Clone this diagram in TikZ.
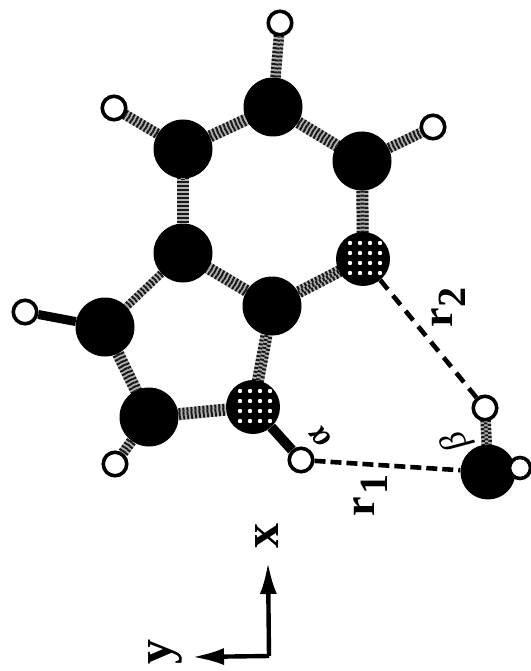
\documentclass[tikz,border=0pt]{standalone}
\usepackage{fontspec}
\setmainfont{Liberation Serif}
\usetikzlibrary{arrows.meta,calc,backgrounds}
\tikzset{x=1pt,y=-1pt,
 carbon/.style={circle,fill=black,inner sep=0pt,minimum size=59pt},
 nitro/.style={circle,fill=black,inner sep=0pt,minimum size=54pt},
 oxy/.style={circle,fill=black,inner sep=0pt,minimum size=55pt},
 hyd/.style={circle,draw=black,fill=white,line width=3.6pt,inner sep=0pt,minimum size=23.5pt},
 bondbase/.style={draw=black!30,line cap=butt},
 check/.style={draw=black!90,line cap=butt,dash pattern=on 2pt off 2pt},
 hb/.style={line width=4.6pt,draw=black,dash pattern=on 11pt off 5pt},
 hbb/.style={line width=4.6pt,draw=black,dash pattern=on 12pt off 8pt},
 axis/.style={line width=4.4pt,draw=black,line join=round,-{Latex[length=32pt,width=17pt]}},
 lab/.style={font=\bfseries\fontsize{44}{44}\selectfont,rotate=90,inner sep=0pt},
 sublab/.style={font=\bfseries\fontsize{40}{40}\selectfont,rotate=90,inner sep=0pt},
 axlab/.style={font=\bfseries\fontsize{50}{50}\selectfont,rotate=90,inner sep=0pt},
 greek/.style={font=\itshape\fontsize{36}{36}\selectfont,inner sep=0pt},
 wdot/.style={circle,fill=white,inner sep=0pt,minimum size=4.4pt}}
% textured bond: three rows of offset dashes, so the line looks like a halftone
\newcommand{\texbond}[3]{%
 \draw[bondbase,line width=#3 pt] (#1)--(#2);
 \draw[check,line width=#3 pt/3] (#1)--(#2);
 \draw[check,line width=#3 pt/3,dash phase=2pt] ($(#1)!#3 pt/3!90:(#2)$)--($(#2)!#3 pt/3!-90:(#1)$);
 \draw[check,line width=#3 pt/3,dash phase=2pt] ($(#1)!#3 pt/3!-90:(#2)$)--($(#2)!#3 pt/3!90:(#1)$);
}
\begin{document}
\begin{tikzpicture}
\useasboundingbox (0,0) rectangle (530,671);
% atoms
\node[carbon] (C1) at (273,107) {};
\node[carbon] (C2) at (362,161) {};
\node[carbon] (C3) at (272,306) {};
\node[carbon] (C4) at (183,253) {};
\node[carbon] (C5) at (183,149) {};
\node[carbon] (C6) at (105,327) {};
\node[carbon] (C7) at (149,417) {};
\node[oxy] (O) at (488,472) {};
\node[nitro] (N1) at (363,259) {};
\node[nitro] (N2) at (253,407) {};
\foreach \dx in {-13,-3,7,17}\foreach \dy in {-16,-6,4,14}{
 \node[wdot] (da\dx\dy) at ($(N1)+(\dx,\dy)$) {};
 \node[wdot] (db\dx\dy) at ($(N2)+(\dx,\dy)$) {};
}
\node[hyd] (H1) at (280,23) {};
\node[hyd] (H2) at (433,127) {};
\node[hyd] (H3) at (114,108) {};
\node[hyd] (H4) at (25,312) {};
\node[hyd] (H5) at (115,464) {};
\node[hyd] (H6) at (301,460) {};
\node[hyd] (H7) at (485,408) {};
\node[hyd,minimum size=21pt] (H8) at (520,468) {};
% bonds, behind the atoms
\begin{scope}[on background layer]
\fill[white] (0,0) rectangle (530,671);
\foreach \a/\b in {C1/C2,C2/N1,N1/C3,C3/C4,C4/C5,C5/C1,C6/C7,C7/N2,N2/C3}{\texbond{\a}{\b}{12}}
\texbond{C4}{C6}{8}
\foreach \a/\b in {C1/H1,C2/H2,C5/H3,C7/H5,O/H7}{\texbond{\a}{\b}{10.5}}
\draw[line width=9pt,black] (C6)--(H4);
\draw[line width=10pt,black] (N2)--(H6);
\end{scope}
% hydrogen bonds
\draw[hb] (H6)--(O);
\draw[hbb] (N1)--(H7);
% labels
\node[lab] (r1) at (364,507) {r};
\node[sublab] (r1s) at (374,484) {1};
\node[lab] (r2) at (442,318) {r};
\node[sublab] (r2s) at (452,297) {2};
\node[greek,font=\bfseries\itshape\fontsize{34}{34}\selectfont,rotate=130] (al) at (320,436) {α};
\node[greek,rotate=115] (be) at (457,441) {β};
% axes
\coordinate (o) at (269,656);
\node[axlab] (x) at (267,536) {x};
\node[axlab] (y) at (165,652) {y};
\draw[axis] (o)--(268,562);
\draw[axis] (o)--(192,657);
\end{tikzpicture}
\end{document}
